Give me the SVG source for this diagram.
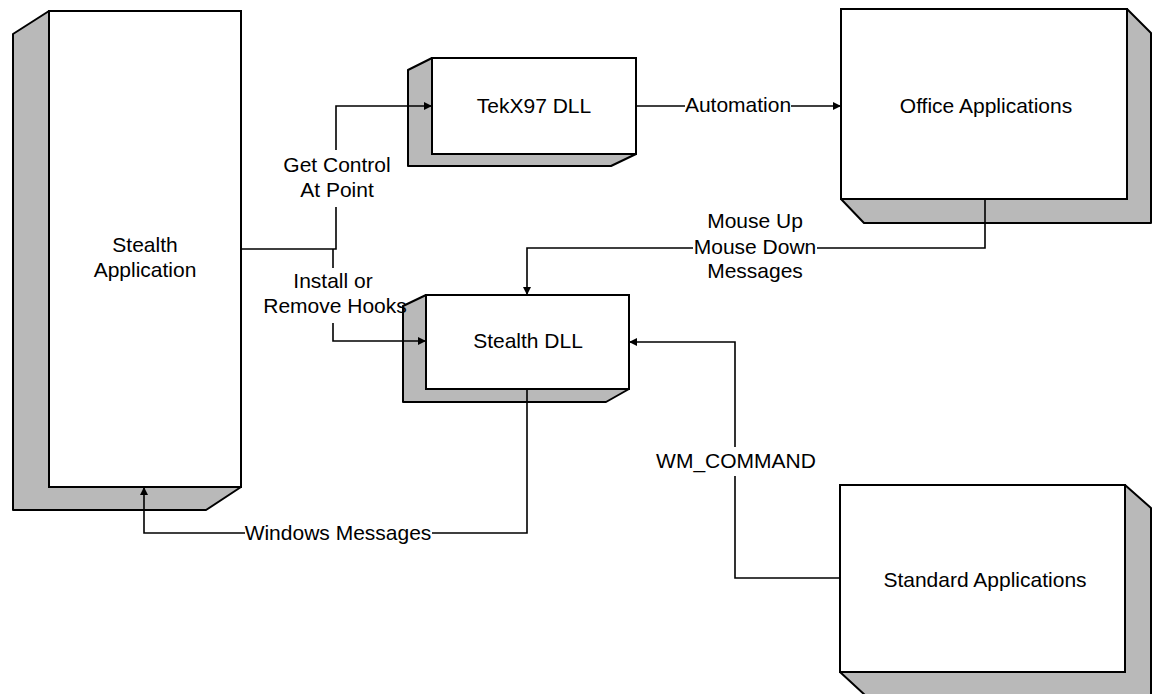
<svg xmlns="http://www.w3.org/2000/svg" width="1157" height="694" viewBox="0 0 1157 694">
<style>
.face{fill:#ffffff;stroke:#000;stroke-width:2}
.ext{fill:#b9b9b9;stroke:#000;stroke-width:2;stroke-linejoin:round}
.lbl{font-family:"Liberation Sans",Arial,sans-serif;font-size:21px;fill:#000;text-anchor:middle}
.con{fill:none;stroke:#000;stroke-width:1.6}
</style>
<defs>
<marker id="ah" viewBox="0 0 10 10" refX="10" refY="5" markerWidth="8" markerHeight="8" markerUnits="userSpaceOnUse" orient="auto">
<path d="M0,0 L10,5 L0,10 Z" fill="#000"/>
</marker>
</defs>
<rect width="1157" height="694" fill="#fff"/>
<g id="stealth-app">
<polygon class="ext" points="49,11 13,34 13,510 206,510 241,487 49,487"/>
<rect class="face" x="49" y="11" width="192" height="476"/>
<text class="lbl" x="145" y="252">Stealth</text>
<text class="lbl" x="145" y="277">Application</text>
</g>
<g id="tekx97-dll">
<polygon class="ext" points="432,58 408,70 408,166 611,166 636,154 432,154"/>
<rect class="face" x="432" y="58" width="204" height="96"/>
<text class="lbl" x="534" y="113">TekX97 DLL</text>
</g>
<g id="office-apps">
<polygon class="ext" points="1127,9 1151,33 1151,223 864,223 841,199 1127,199"/>
<rect class="face" x="841" y="9" width="286" height="190"/>
<text class="lbl" x="986" y="113">Office Applications</text>
</g>
<g id="stealth-dll">
<polygon class="ext" points="426,295 403,306 403,402 606,402 629,389 426,389"/>
<rect class="face" x="426" y="295" width="203" height="94"/>
<text class="lbl" x="528" y="348">Stealth DLL</text>
</g>
<g id="standard-apps">
<polygon class="ext" points="1125,485 1151,508 1151,696 866,696 840,672 1125,672"/>
<rect class="face" x="840" y="485" width="285" height="187"/>
<text class="lbl" x="985" y="587">Standard Applications</text>
</g>
<g id="connectors">
<path class="con" d="M241,249 H336 V207"/>
<path class="con" d="M336,150 V106 H432" marker-end="url(#ah)"/>
<path class="con" d="M333,249 V268"/>
<path class="con" d="M333,323 V341 H426" marker-end="url(#ah)"/>
<path class="con" d="M636,106 H685"/>
<path class="con" d="M791,106 H841" marker-end="url(#ah)"/>
<path class="con" d="M985,199 V248 H817"/>
<path class="con" d="M693,248 H527 V295" marker-end="url(#ah)"/>
<path class="con" d="M527,389 V533 H432"/>
<path class="con" d="M245,533 H144 V487" marker-end="url(#ah)"/>
<path class="con" d="M840,578 H735 V476"/>
<path class="con" d="M735,447 V342 H629" marker-end="url(#ah)"/>
</g>
<g id="labels">
<text class="lbl" x="337" y="172">Get Control</text>
<text class="lbl" x="337" y="197">At Point</text>
<text class="lbl" x="333" y="288">Install or</text>
<text class="lbl" x="335" y="313">Remove Hooks</text>
<text class="lbl" x="738" y="112">Automation</text>
<text class="lbl" x="755" y="228">Mouse Up</text>
<text class="lbl" x="755" y="254">Mouse Down</text>
<text class="lbl" x="755" y="278">Messages</text>
<text class="lbl" x="338" y="540">Windows Messages</text>
<text class="lbl" x="736" y="468">WM_COMMAND</text>
</g>
</svg>
